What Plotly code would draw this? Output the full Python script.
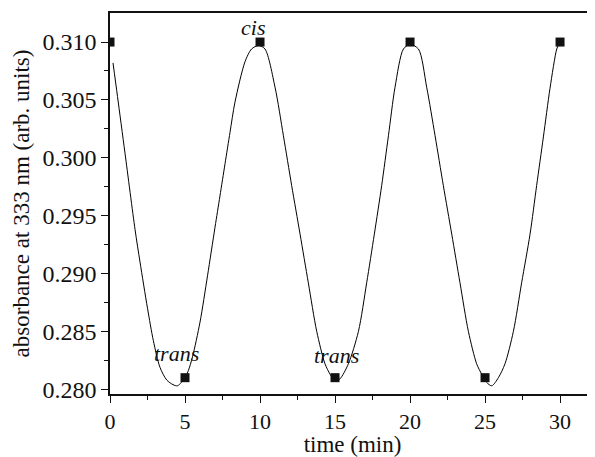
import plotly.graph_objects as go

# measured points
time_min = [0, 5, 10, 15, 20, 25, 30]
absorbance = [0.310, 0.281, 0.310, 0.281, 0.310, 0.281, 0.310]

# fitted curve
curve_t = [0.2, 0.5, 1.0, 1.67, 2.0, 2.5, 2.89, 3.33, 3.78, 4.2, 4.5, 5.0, 5.22, 5.5,
           6.0, 6.5, 7.0, 7.33, 7.67, 8.0, 8.33, 9.0, 9.44, 9.9, 10.33, 11.0, 11.56,
           12.11, 12.67, 13.22, 13.78, 14.33, 14.67, 15.0, 15.33, 15.89, 16.56, 17.11,
           17.62, 18.11, 18.56, 19.0, 19.56, 20.0, 20.56, 21.11, 21.67, 22.22, 22.78,
           23.33, 23.89, 24.44, 24.78, 25.1, 25.45, 25.89, 26.33, 26.89, 27.44, 28.0,
           28.44, 28.89, 29.33, 29.78, 29.92]
curve_v = [0.3082, 0.3053, 0.3004, 0.2938, 0.2910, 0.2870, 0.2842, 0.2819, 0.2808,
           0.2804, 0.2803, 0.2810, 0.2816, 0.2828, 0.2858, 0.2898, 0.2940, 0.2967,
           0.2995, 0.3022, 0.3048, 0.3083, 0.3094, 0.3097, 0.3094, 0.3061, 0.3019,
           0.2976, 0.2934, 0.2892, 0.2850, 0.2822, 0.2813, 0.2807, 0.2809, 0.2822,
           0.2850, 0.2892, 0.2934, 0.2976, 0.3019, 0.3061, 0.3094, 0.3098, 0.3094,
           0.3061, 0.3019, 0.2976, 0.2934, 0.2892, 0.2850, 0.2822, 0.2813, 0.2806,
           0.2803, 0.2810, 0.2822, 0.2850, 0.2892, 0.2934, 0.2976, 0.3018, 0.3060,
           0.3094, 0.3098]

labels = ["cis", "trans", "trans"]
label_x = [9.53, 4.4, 15.07]
label_y = [0.3113, 0.2831, 0.2829]

x_ticks = [0, 5, 10, 15, 20, 25, 30]
y_ticks = [0.280, 0.285, 0.290, 0.295, 0.300, 0.305, 0.310]

FONT = "Liberation Serif, Times New Roman, serif"
INK = "#111111"

fig = go.Figure()
fig.add_trace(go.Scatter(x=curve_t, y=curve_v, mode="lines",
                         line=dict(color="black", width=1, shape="spline", smoothing=0.8),
                         hoverinfo="skip", showlegend=False))
fig.add_trace(go.Scatter(x=time_min, y=absorbance, mode="markers",
                         marker=dict(symbol="square", size=9, color=INK),
                         showlegend=False))

for txt, lx, ly in zip(labels, label_x, label_y):
    fig.add_annotation(x=lx, y=ly, text=f"<i>{txt}</i>", showarrow=False,
                       font=dict(family=FONT, size=22, color=INK),
                       xanchor="center", yanchor="middle")

# the page body adds an 8px margin, so the figure is sized/offset to compensate
fig.update_layout(
    width=587, height=449,
    margin=dict(l=102, r=0, t=5, b=63, autoexpand=False),
    paper_bgcolor="white", plot_bgcolor="white",
    font=dict(family=FONT, color=INK),
)
fig.update_xaxes(
    range=[0, 32.33], tickvals=x_ticks, ticktext=[str(v) for v in x_ticks],
    ticks="outside", ticklen=7, tickwidth=1.2, tickcolor=INK,
    showline=True, linecolor=INK, linewidth=1.5, mirror=True,
    showgrid=False, zeroline=False, automargin=False,
    tickfont=dict(family=FONT, size=22, color=INK),
    minor=dict(tickvals=[2.5, 7.5, 12.5, 17.5, 22.5, 27.5, 32.5], ticks="outside",
               ticklen=4, tickwidth=1.2, tickcolor=INK, showgrid=False),
    title=dict(text="time (min)", font=dict(family=FONT, size=23, color=INK),
               standoff=3),
)
fig.update_yaxes(
    range=[0.27959, 0.31251], tickvals=y_ticks, ticktext=[f"{v:.3f}" for v in y_ticks],
    ticks="outside", ticklen=7, tickwidth=1.2, tickcolor=INK,
    showline=True, linecolor=INK, linewidth=1.5, mirror=False,
    showgrid=False, zeroline=False, automargin=False,
    tickfont=dict(family=FONT, size=24, color=INK),
    minor=dict(tickvals=[0.2825, 0.2875, 0.2925, 0.2975, 0.3025, 0.3075], ticks="outside",
               ticklen=4, tickwidth=1.2, tickcolor=INK, showgrid=False),
    title=dict(text="absorbance at 333 nm (arb. units)",
               font=dict(family=FONT, size=23, color=INK), standoff=6),
)

fig.write_html("out.html")
